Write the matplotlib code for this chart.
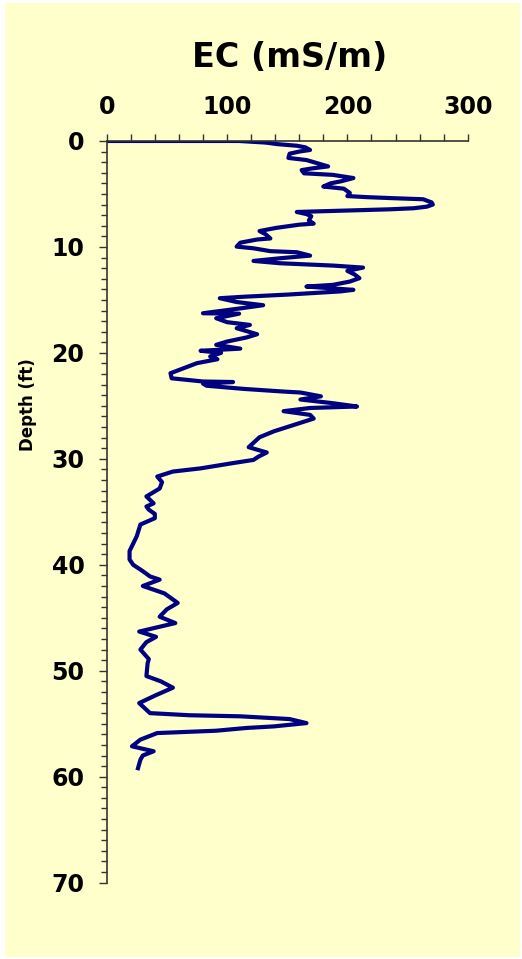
import matplotlib
matplotlib.use("Agg")
import matplotlib.pyplot as plt
from matplotlib.patches import Rectangle
from matplotlib.ticker import MultipleLocator

# EC log (depth in ft, EC in mS/m)
depth = [0.0, 0.0, 0.15, 0.3, 0.45, 0.6, 0.85, 1.0, 1.2, 1.6, 1.8, 2.1, 2.4, 2.6, 2.75,
         3.05, 3.2, 3.5, 3.8, 4.0, 4.3, 4.5, 4.9, 5.2, 5.3, 5.4, 5.5, 5.8, 6.0, 6.2,
         6.35, 6.45, 6.6, 6.7, 6.9, 7.1, 7.5, 7.8, 7.9, 8.2, 8.5, 8.8, 9.2, 9.3, 9.6,
         9.97, 10.13, 10.4, 10.5, 10.82, 11.07, 11.32, 11.54, 11.76, 11.95, 12.26, 12.6,
         12.95, 13.27, 13.58, 13.74, 14.05, 14.2, 14.5, 14.7, 14.84, 15.2, 15.5, 15.8,
         16.26, 16.3, 16.73, 17.1, 17.36, 17.67, 18.24, 18.55, 18.93, 19.24, 19.6, 19.8,
         20.0, 20.34, 20.6, 20.97, 21.45, 21.92, 22.4, 22.7, 22.75, 22.9, 23.1, 23.4,
         23.65, 23.74, 24.1, 24.4, 24.75, 25.06, 25.2, 25.5, 25.85, 26.2, 26.6, 27.4,
         27.96, 28.9, 29.4, 29.8, 30.1, 30.4, 30.9, 31.2, 31.67, 32.2, 32.8, 33.55,
         34.2, 34.5, 34.8, 35.2, 35.6, 36.2, 37.3, 38.0, 38.7, 39.5, 40.0, 40.6, 41.1,
         41.4, 42.0, 42.7, 43.6, 44.2, 44.9, 45.5, 46.3, 46.8, 47.3, 48.0, 48.9, 49.3,
         50.5, 51.0, 51.6, 52.3, 53.05, 54.0, 54.2, 54.3, 54.56, 54.94, 55.25, 55.4,
         55.66, 55.88, 56.5, 57.13, 57.6, 58.0, 58.4, 59.2]
ec = [0, 110, 132, 142, 158, 165, 169, 160, 152, 151, 166, 175, 184, 170, 162,
      164, 188, 205, 195, 186, 180, 197, 202, 200, 216, 238, 263, 270, 271, 266,
      255, 235, 190, 158, 166, 170, 168, 172, 160, 141, 127, 132, 136, 125, 111,
      108, 122, 136, 158, 169, 144, 122, 144, 188, 213, 200, 206,
      210, 202, 188, 166, 205, 194, 150, 114, 94, 108, 130, 111,
      80, 110, 91, 100, 119, 108, 125, 116, 100, 91, 111, 78,
      95, 86, 92, 75, 64, 53, 54, 80, 105, 80, 83, 114,
      147, 161, 178, 161, 188, 208, 169, 147, 169, 172, 161, 139,
      127, 118, 133, 126, 122, 105, 78, 55, 42, 46, 44, 33,
      39, 33, 35, 40, 40, 28, 25, 22, 19, 19, 22, 30, 36,
      44, 30, 48, 59, 50, 44, 57, 27, 41, 33, 28, 35, 34,
      33, 45, 55, 41, 27, 36, 69, 111, 152, 166, 139, 116,
      91, 42, 28, 21, 39, 30, 28, 26]

bg = '#ffffcc'
fig = plt.figure(figsize=(5.22, 9.59), dpi=100, facecolor='white')
fig.patches.append(Rectangle((5 / 522, 2 / 959), 515 / 522, 954 / 959,
                             transform=fig.transFigure, facecolor=bg,
                             edgecolor='none', zorder=-10))

ax = fig.add_axes([0.2044, 0.0796, 0.6916, 0.7734])
ax.set_facecolor(bg)
ax.plot(ec, depth, color='#000080', lw=3, solid_joinstyle='round')

ax.set_xlim(0, 300)
ax.set_ylim(70, 0)
ax.xaxis.set_major_locator(MultipleLocator(100))
ax.xaxis.set_minor_locator(MultipleLocator(20))
ax.yaxis.set_major_locator(MultipleLocator(10))
ax.yaxis.set_minor_locator(MultipleLocator(1))
ax.xaxis.tick_top()
ax.spines['right'].set_visible(False)
ax.spines['bottom'].set_visible(False)
for s in ('left', 'top'):
    ax.spines[s].set_color('#333333')
    ax.spines[s].set_linewidth(1.2)

ax.tick_params(axis='x', which='both', direction='out', top=True, bottom=False,
               labeltop=True, labelbottom=False, color='#333333', width=1)
ax.tick_params(axis='x', which='major', length=5, pad=11, labelsize=17)
ax.tick_params(axis='x', which='minor', length=5)
ax.tick_params(axis='y', which='major', length=6, pad=10, labelsize=17,
               color='#333333', width=1)
ax.tick_params(axis='y', which='minor', length=4.5, color='#333333', width=1)
for lab in ax.get_xticklabels() + ax.get_yticklabels():
    lab.set_fontweight('bold')

ax.set_ylabel('Depth (ft)', fontsize=12, fontweight='bold')
ax.yaxis.set_label_coords(-0.192, 0.644)
fig.text(0.555, 0.930, 'EC (mS/m)', ha='center', va='baseline',
         fontsize=24, fontweight='bold')

fig.savefig('out.png', dpi=100, facecolor=fig.get_facecolor())
